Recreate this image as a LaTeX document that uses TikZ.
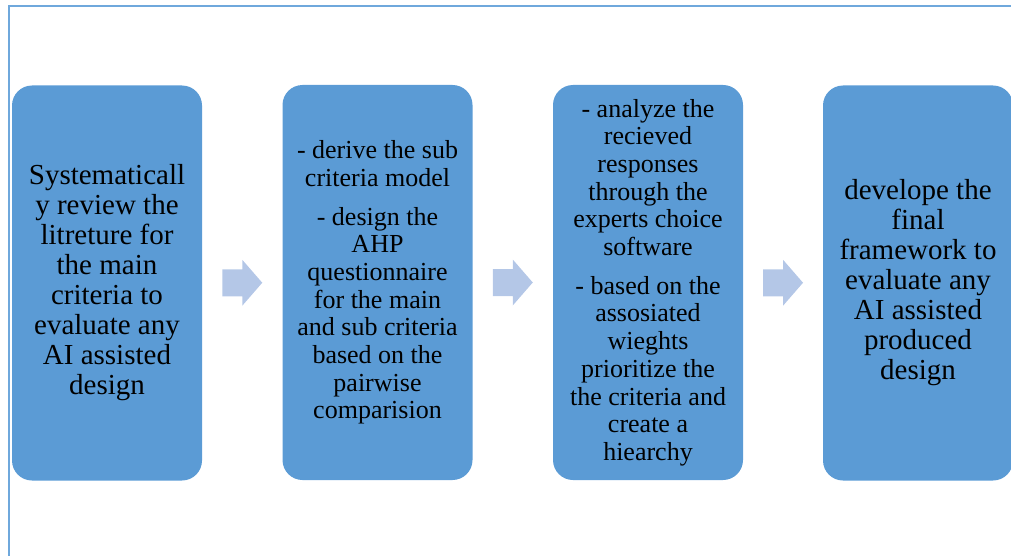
\documentclass[tikz,border=0pt]{standalone}
\usepackage{fontspec}
\setmainfont{Liberation Serif}
\newfontfamily\tnr{Liberation Serif}
\usetikzlibrary{calc}
\definecolor{boxblue}{RGB}{91,155,213}
\definecolor{arrowblue}{RGB}{180,199,231}
\definecolor{frameblue}{RGB}{111,168,220}
\tikzset{
  stepbox/.style={fill=boxblue, rounded corners=20pt, minimum width=190pt, minimum height=395pt, inner sep=0pt, align=center, text=black},
  bigtext/.style={font=\tnr\fontsize{29}{30}\selectfont},
  smalltext/.style={font=\tnr\fontsize{26}{27.7}\selectfont},
  flowarrow/.style={fill=arrowblue}
}
\begin{document}
\begin{tikzpicture}[x=1pt,y=-1pt]
\useasboundingbox (0,0) rectangle (1011,556);
\draw[frameblue, line width=1.5pt] (9,556) -- (9,6) -- (1011,6);
\node[stepbox, bigtext] (b1) at (107,283) {Systematicall\\y review the\\litreture for\\the main\\criteria to\\evaluate any\\AI assisted\\design};
\node[stepbox, smalltext] (b2) at (377.5,282.5) {- derive the sub\\criteria model\\[11pt]- design the\\AHP\\questionnaire\\for the main\\and sub criteria\\based on the\\pairwise\\comparision};
\node[stepbox, smalltext] (b3) at (648,282.5) {- analyze the\\recieved\\responses\\through the\\experts choice\\software\\[11pt]- based on the\\assosiated\\wieghts\\prioritize the\\the criteria and\\create a\\hiearchy};
\node[stepbox, bigtext] (b4) at (918,283) {develope the\\final\\framework to\\evaluate any\\AI assisted\\produced\\design};
\foreach \a/\b in {b1/b2, b2/b3, b3/b4}{
  \path (\a.east) -- (\b.west) coordinate[pos=0.5] (m);
  \fill[flowarrow] ($(m)+(-20,-13.5)$) -- ++(20,0) -- ++(0,-9.5) -- ++(20,23) -- ++(-20,23) -- ++(0,-9.5) -- ++(-20,0) -- cycle;
}
\end{tikzpicture}
\end{document}
